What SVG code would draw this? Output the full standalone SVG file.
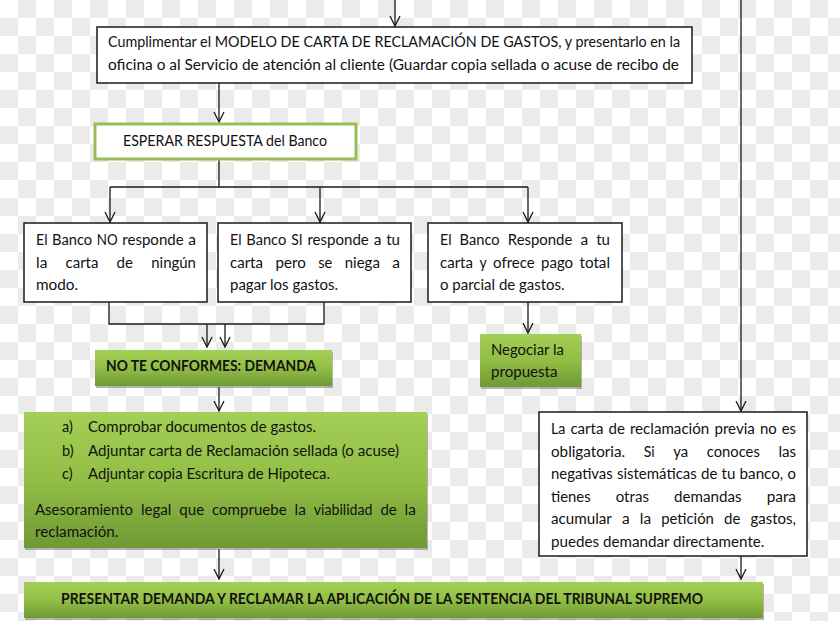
<svg xmlns="http://www.w3.org/2000/svg" width="840" height="621" viewBox="0 0 840 621">
<defs>
<pattern id="cb" width="36" height="36" patternUnits="userSpaceOnUse">
<rect width="36" height="36" fill="#ffffff"/>
<rect x="18" y="0" width="18" height="18" fill="#ebebeb"/>
<rect x="0" y="18" width="18" height="18" fill="#ebebeb"/>
</pattern>
<linearGradient id="gg" x1="0" y1="0" x2="0" y2="1">
<stop offset="0" stop-color="#a3cf55"/>
<stop offset="0.5" stop-color="#92be46"/>
<stop offset="1" stop-color="#6e9934"/>
</linearGradient>
<marker id="ah" markerUnits="userSpaceOnUse" markerWidth="14" markerHeight="14" viewBox="-12 -7 14 14" refX="0" refY="0" orient="auto">
<path d="M-10,-5 L0,0 L-10,5" fill="none" stroke="#1a1a1a" stroke-width="1.3"/>
</marker>
</defs>
<style>
text{font-family:Lato,"Liberation Sans",sans-serif;font-size:14.5px;fill:#111}
.b{font-weight:bold}
.box{fill:#fff;stroke:#1a1a1a;stroke-width:1.5}
.gbox{fill:url(#gg)}
.sh{fill:#7a7a7a;opacity:0.55}
.c{fill:none;stroke:#1a1a1a;stroke-width:1.3}
</style>
<rect width="840" height="621" fill="url(#cb)"/>

<g id="connectors">
<path class="c" d="M395,0 V26" marker-end="url(#ah)"/>
<path class="c" d="M741,0 V411" marker-end="url(#ah)"/>
<path class="c" d="M219,83 V122" marker-end="url(#ah)"/>
<path class="c" d="M219,160 V187 M110,187 H528"/>
<path class="c" d="M110,187 V222" marker-end="url(#ah)"/>
<path class="c" d="M320,187 V222" marker-end="url(#ah)"/>
<path class="c" d="M528,187 V222" marker-end="url(#ah)"/>
<path class="c" d="M109,302 V324 H324 V302"/>
<path class="c" d="M207,324 V347" marker-end="url(#ah)"/>
<path class="c" d="M225,324 V347" marker-end="url(#ah)"/>
<path class="c" d="M528,302 V333" marker-end="url(#ah)"/>
<path class="c" d="M219,387 V411" marker-end="url(#ah)"/>
<path class="c" d="M219,549 V579" marker-end="url(#ah)"/>
<path class="c" d="M741,556 V579" marker-end="url(#ah)"/>
</g>

<g id="n-modelo">
<rect class="box" x="97" y="27" width="595" height="56"/>
<text x="108" y="47" textLength="572" lengthAdjust="spacingAndGlyphs">Cumplimentar el MODELO DE CARTA DE RECLAMACIÓN DE GASTOS, y presentarlo en la</text>
<text x="108" y="70" textLength="571" lengthAdjust="spacingAndGlyphs">oficina o al Servicio de atención al cliente (Guardar copia sellada o acuse de recibo de</text>
</g>

<g id="n-esperar">
<rect x="95" y="124" width="261" height="35" fill="#fff" stroke="#9bbb59" stroke-width="3"/>
<text x="123" y="146" textLength="204" lengthAdjust="spacingAndGlyphs">ESPERAR RESPUESTA del Banco</text>
</g>

<g id="n-no">
<rect class="box" x="24" y="223" width="183" height="79"/>
<text x="36" y="245" textLength="11.5" lengthAdjust="spacingAndGlyphs">El</text>
<text x="52.1" y="245" textLength="40" lengthAdjust="spacingAndGlyphs">Banco</text>
<text x="96.7" y="245" textLength="20.9" lengthAdjust="spacingAndGlyphs">NO</text>
<text x="122.3" y="245" textLength="61.4" lengthAdjust="spacingAndGlyphs">responde</text>
<text x="188.3" y="245" textLength="7.7" lengthAdjust="spacingAndGlyphs">a</text>
<text x="36" y="268" textLength="11.3" lengthAdjust="spacingAndGlyphs">la</text>
<text x="65.5" y="268" textLength="33" lengthAdjust="spacingAndGlyphs">carta</text>
<text x="116.6" y="268" textLength="16.4" lengthAdjust="spacingAndGlyphs">de</text>
<text x="151.2" y="268" textLength="44.8" lengthAdjust="spacingAndGlyphs">ningún</text>
<text x="36" y="290" textLength="42.1" lengthAdjust="spacingAndGlyphs">modo.</text>
</g>

<g id="n-si">
<rect class="box" x="218" y="223" width="193" height="79"/>
<text x="230" y="245" textLength="11.5" lengthAdjust="spacingAndGlyphs">El</text>
<text x="246.3" y="245" textLength="40" lengthAdjust="spacingAndGlyphs">Banco</text>
<text x="291.2" y="245" textLength="11.4" lengthAdjust="spacingAndGlyphs">SI</text>
<text x="307.4" y="245" textLength="61.4" lengthAdjust="spacingAndGlyphs">responde</text>
<text x="373.7" y="245" textLength="7.7" lengthAdjust="spacingAndGlyphs">a</text>
<text x="386.2" y="245" textLength="13.8" lengthAdjust="spacingAndGlyphs">tu</text>
<text x="230" y="268" textLength="33" lengthAdjust="spacingAndGlyphs">carta</text>
<text x="275.4" y="268" textLength="30.4" lengthAdjust="spacingAndGlyphs">pero</text>
<text x="318.2" y="268" textLength="14.2" lengthAdjust="spacingAndGlyphs">se</text>
<text x="344.7" y="268" textLength="35.2" lengthAdjust="spacingAndGlyphs">niega</text>
<text x="392.3" y="268" textLength="7.7" lengthAdjust="spacingAndGlyphs">a</text>
<text x="230" y="290" textLength="108" lengthAdjust="spacingAndGlyphs">pagar los gastos.</text>
</g>

<g id="n-responde">
<rect class="box" x="428" y="223" width="194" height="79"/>
<text x="440" y="245" textLength="11.5" lengthAdjust="spacingAndGlyphs">El</text>
<text x="459.6" y="245" textLength="40" lengthAdjust="spacingAndGlyphs">Banco</text>
<text x="507.8" y="245" textLength="64.5" lengthAdjust="spacingAndGlyphs">Responde</text>
<text x="580.4" y="245" textLength="7.7" lengthAdjust="spacingAndGlyphs">a</text>
<text x="596.2" y="245" textLength="13.8" lengthAdjust="spacingAndGlyphs">tu</text>
<text x="440" y="268" textLength="33" lengthAdjust="spacingAndGlyphs">carta</text>
<text x="479.4" y="268" textLength="7.2" lengthAdjust="spacingAndGlyphs">y</text>
<text x="493.1" y="268" textLength="41.6" lengthAdjust="spacingAndGlyphs">ofrece</text>
<text x="541.1" y="268" textLength="32" lengthAdjust="spacingAndGlyphs">pago</text>
<text x="579.5" y="268" textLength="30.5" lengthAdjust="spacingAndGlyphs">total</text>
<text x="440" y="290" textLength="124.6" lengthAdjust="spacingAndGlyphs">o parcial de gastos.</text>
</g>

<g id="n-demanda">
<rect class="sh" x="96" y="352" width="237" height="36"/>
<rect class="gbox" x="95" y="350" width="237" height="36"/>
<text class="b" x="106" y="371" textLength="210" lengthAdjust="spacingAndGlyphs">NO TE CONFORMES: DEMANDA</text>
</g>

<g id="n-negociar">
<rect class="sh" x="481" y="336" width="101" height="53"/>
<rect class="gbox" x="480" y="334" width="101" height="53"/>
<text x="491" y="355" textLength="72.9" lengthAdjust="spacingAndGlyphs">Negociar la</text>
<text x="491" y="377" textLength="66.5" lengthAdjust="spacingAndGlyphs">propuesta</text>
</g>

<g id="n-documentos">
<rect class="sh" x="25" y="414" width="403" height="136"/>
<rect class="gbox" x="24" y="412" width="403" height="136"/>
<text x="62" y="432">a)</text>
<text x="88" y="432" textLength="228" lengthAdjust="spacingAndGlyphs">Comprobar documentos de gastos.</text>
<text x="62" y="456">b)</text>
<text x="88" y="456" textLength="311" lengthAdjust="spacingAndGlyphs">Adjuntar carta de Reclamación sellada (o acuse)</text>
<text x="62" y="479">c)</text>
<text x="88" y="479" textLength="242" lengthAdjust="spacingAndGlyphs">Adjuntar copia Escritura de Hipoteca.</text>
<text x="35" y="515" textLength="98" lengthAdjust="spacingAndGlyphs">Asesoramiento</text>
<text x="140.9" y="515" textLength="30.5" lengthAdjust="spacingAndGlyphs">legal</text>
<text x="179.3" y="515" textLength="24.8" lengthAdjust="spacingAndGlyphs">que</text>
<text x="212" y="515" textLength="74.7" lengthAdjust="spacingAndGlyphs">compruebe</text>
<text x="294.5" y="515" textLength="11.3" lengthAdjust="spacingAndGlyphs">la</text>
<text x="313.8" y="515" textLength="58.7" lengthAdjust="spacingAndGlyphs">viabilidad</text>
<text x="380.4" y="515" textLength="16.4" lengthAdjust="spacingAndGlyphs">de</text>
<text x="404.6" y="515" textLength="11.3" lengthAdjust="spacingAndGlyphs">la</text>
<text x="35" y="537" textLength="83.4" lengthAdjust="spacingAndGlyphs">reclamación.</text>
</g>

<g id="n-previa">
<rect class="box" x="539" y="412" width="268" height="144"/>
<text x="551" y="434" textLength="14.4" lengthAdjust="spacingAndGlyphs">La</text>
<text x="570.4" y="434" textLength="33" lengthAdjust="spacingAndGlyphs">carta</text>
<text x="608.5" y="434" textLength="16.4" lengthAdjust="spacingAndGlyphs">de</text>
<text x="629.9" y="434" textLength="79.4" lengthAdjust="spacingAndGlyphs">reclamación</text>
<text x="714.4" y="434" textLength="40.5" lengthAdjust="spacingAndGlyphs">previa</text>
<text x="759.9" y="434" textLength="16.8" lengthAdjust="spacingAndGlyphs">no</text>
<text x="781.8" y="434" textLength="14.2" lengthAdjust="spacingAndGlyphs">es</text>
<text x="551" y="457" textLength="74.1" lengthAdjust="spacingAndGlyphs">obligatoria.</text>
<text x="643.7" y="457" textLength="11" lengthAdjust="spacingAndGlyphs">Si</text>
<text x="673.3" y="457" textLength="14.9" lengthAdjust="spacingAndGlyphs">ya</text>
<text x="706.8" y="457" textLength="53" lengthAdjust="spacingAndGlyphs">conoces</text>
<text x="778.4" y="457" textLength="17.6" lengthAdjust="spacingAndGlyphs">las</text>
<text x="551" y="479" textLength="61.7" lengthAdjust="spacingAndGlyphs">negativas</text>
<text x="617" y="479" textLength="79.7" lengthAdjust="spacingAndGlyphs">sistemáticas</text>
<text x="701" y="479" textLength="16.4" lengthAdjust="spacingAndGlyphs">de</text>
<text x="721.6" y="479" textLength="13.8" lengthAdjust="spacingAndGlyphs">tu</text>
<text x="739.6" y="479" textLength="43.7" lengthAdjust="spacingAndGlyphs">banco,</text>
<text x="787.6" y="479" textLength="8.4" lengthAdjust="spacingAndGlyphs">o</text>
<text x="551" y="502" textLength="39.6" lengthAdjust="spacingAndGlyphs">tienes</text>
<text x="615.7" y="502" textLength="33.3" lengthAdjust="spacingAndGlyphs">otras</text>
<text x="674.1" y="502" textLength="67.6" lengthAdjust="spacingAndGlyphs">demandas</text>
<text x="766.7" y="502" textLength="29.3" lengthAdjust="spacingAndGlyphs">para</text>
<text x="551" y="524" textLength="60.9" lengthAdjust="spacingAndGlyphs">acumular</text>
<text x="622" y="524" textLength="7.7" lengthAdjust="spacingAndGlyphs">a</text>
<text x="639.8" y="524" textLength="11.3" lengthAdjust="spacingAndGlyphs">la</text>
<text x="661.2" y="524" textLength="52.7" lengthAdjust="spacingAndGlyphs">petición</text>
<text x="724" y="524" textLength="16.4" lengthAdjust="spacingAndGlyphs">de</text>
<text x="750.5" y="524" textLength="45.5" lengthAdjust="spacingAndGlyphs">gastos,</text>
<text x="551" y="547" textLength="213.4" lengthAdjust="spacingAndGlyphs">puedes demandar directamente.</text>
</g>

<g id="n-presentar">
<rect class="sh" x="25" y="584" width="739" height="36"/>
<rect class="gbox" x="24" y="582" width="739" height="36"/>
<text class="b" x="61" y="604" textLength="642" lengthAdjust="spacingAndGlyphs">PRESENTAR DEMANDA Y RECLAMAR LA APLICACIÓN DE LA SENTENCIA DEL TRIBUNAL SUPREMO</text>
</g>
</svg>
